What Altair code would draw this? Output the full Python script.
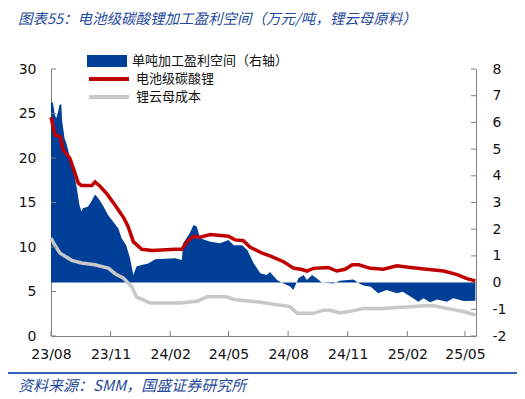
import altair as alt
import pandas as pd

START = "2023-08-01"

# ---- data (day offset from 2023-08-01, value) ----
red_day = [0, 6, 14, 19, 29, 37, 42, 47, 63, 68, 76, 86, 99, 112, 119, 127, 140, 156, 192, 202,
           210, 220, 230, 246, 274, 284, 297, 307, 326, 338, 359, 375, 386, 395, 405, 428, 441,
           454, 465, 475, 493, 513, 534, 555, 580, 606, 627, 642, 655]
red_val = [24.6, 22.6, 22.4, 20.9, 20.0, 18.3, 17.2, 16.9, 16.9, 17.3, 16.8, 16.0, 14.7, 13.3,
           12.3, 10.6, 9.74, 9.6, 9.74, 9.74, 10.6, 11.2, 11.1, 11.4, 11.2, 10.8, 10.7, 10.0, 9.3,
           9.0, 8.35, 7.6, 7.5, 7.3, 7.6, 7.7, 7.3, 7.5, 8.0, 8.0, 7.6, 7.5, 7.9, 7.7, 7.5, 7.3,
           6.9, 6.45, 6.2]

gray_day = [0, 6, 14, 32, 47, 68, 89, 99, 112, 125, 132, 153, 199, 225, 241, 271, 282, 318, 349,
            369, 380, 405, 421, 431, 446, 467, 483, 513, 534, 555, 575, 591, 611, 637, 655]
gray_val = [11.0, 10.2, 9.3, 8.5, 8.2, 8.0, 7.6, 7.0, 6.5, 5.5, 4.4, 3.7, 3.7, 3.9, 4.4, 4.4, 4.1,
            3.85, 3.5, 3.3, 2.55, 2.55, 2.9, 2.9, 2.6, 2.85, 3.1, 3.1, 3.2, 3.3, 3.4, 3.4, 3.1,
            2.75, 2.36]

blue_day = [0, 3, 6, 8, 11, 13, 16, 17, 21, 24, 29, 34, 39, 44, 47, 49, 57, 62, 68, 73, 80, 88,
            96, 104, 109, 116, 122, 127, 132, 140, 150, 161, 192, 202, 204, 214, 220, 225, 230,
            246, 261, 274, 282, 295, 303, 313, 323, 333, 338, 349, 359, 369, 374, 382, 390, 395,
            403, 410, 418, 436, 446, 467, 477, 485, 493, 505, 518, 534, 543, 559, 567, 575, 585,
            596, 611, 621, 637, 655]
blue_val = [6.78, 6.73, 6.28, 6.16, 6.4, 6.65, 6.68, 6.09, 5.4, 5.2, 4.7, 4.28, 3.66, 2.9, 2.66,
            2.78, 2.84, 3.03, 3.3, 3.16, 2.9, 2.53, 2.28, 2.03, 1.66, 1.4, 0.91, 0.28, 0.6, 0.66,
            0.72, 0.87, 0.91, 0.85, 1.47, 1.85, 2.16, 2.1, 1.66, 1.53, 1.47, 1.6, 1.4, 1.4, 1.22,
            0.72, 0.35, 0.28, 0.4, 0.1, -0.03, -0.15, -0.28, 0.16, 0.28, 0.1, 0.28, 0.16, 0.0,
            -0.03, 0.07, 0.12, -0.05, -0.13, -0.15, -0.4, -0.28, -0.4, -0.34, -0.59, -0.72,
            -0.59, -0.74, -0.63, -0.72, -0.59, -0.69, -0.68]

x_tick_dates = ["2023-08-01", "2023-11-01", "2024-02-01", "2024-05-01",
                "2024-08-01", "2024-11-01", "2025-02-01", "2025-05-01"]
left_ticks = [0, 5, 10, 15, 20, 25, 30]
right_ticks = [-2, -1, 0, 1, 2, 3, 4, 5, 6, 7, 8]

NAME_BLUE = "单吨加工盈利空间（右轴）"
NAME_RED = "电池级碳酸锂"
NAME_GRAY = "锂云母成本"
TITLE = "图表55：电池级碳酸锂加工盈利空间（万元/吨，锂云母原料）"
SOURCE = "资料来源：SMM，国盛证券研究所"

BLUE = "#003f98"
RED = "#c00000"
GRAY = "#c8c8c8"
AX = "#808080"
HEAD = "#1f4a9c"
CJK = "Noto Sans CJK SC"
NUM = "DejaVu Sans"

W, H = 425, 267


def to_dates(days):
    return (pd.Timestamp(START) + pd.to_timedelta(days, unit="D")).strftime("%Y-%m-%d").tolist()


blue_df = pd.DataFrame({"date": to_dates(blue_day), "v": blue_val, "s": NAME_BLUE})
lines_df = pd.concat([
    pd.DataFrame({"date": to_dates(red_day), "v": red_val, "s": NAME_RED}),
    pd.DataFrame({"date": to_dates(gray_day), "v": gray_val, "s": NAME_GRAY}),
])
xt_df = pd.DataFrame({"date": x_tick_dates})
lt_df = pd.DataFrame({"t": left_ticks})
rt_df = pd.DataFrame({"t": right_ticks})


def dt(s):
    y, m, d = map(int, s.split("-"))
    return alt.DateTime(year=y, month=m, date=d, utc=True)


x_scale = alt.Scale(type="utc", domain=[dt("2023-08-01"), dt("2025-05-18")])
x_axis = alt.Axis(values=[dt(s) for s in x_tick_dates],
                  labelExpr="utcFormat(datum.value, '%y/%m')",
                  tickSize=0, grid=False, domainColor=AX, domainWidth=1,
                  labelFont=NUM, labelFontSize=14, labelColor="#111111",
                  labelPadding=11, labelFlush=False, labelOverlap=False, title=None)
X = alt.X("date:T", scale=x_scale, axis=x_axis)

left_scale = alt.Scale(domain=[0, 30], nice=False, zero=False)
left_axis = alt.Axis(orient="left", values=left_ticks, tickSize=0, grid=False,
                     domainColor=AX, labelFont=NUM, labelFontSize=14, labelColor="#111111",
                     labelPadding=15, labelFlush=False, title=None)
right_scale = alt.Scale(domain=[-2, 8], nice=False, zero=False)
right_axis = alt.Axis(orient="right", values=right_ticks, tickSize=0, grid=False,
                      domainColor=AX, labelFont=NUM, labelFontSize=14, labelColor="#111111",
                      labelPadding=16, labelFlush=False, title=None,
                      labelExpr="datum.value + ''")

legend_common = dict(title=None, orient="none", labelFont=CJK, labelFontSize=13,
                     labelColor="#111111", symbolSize=1600, clipHeight=12, rowPadding=5,
                     labelOffset=5, padding=0, offset=0, legendX=36)

area = alt.Chart(blue_df).mark_area(interpolate="linear").encode(
    x=X,
    y=alt.Y("v:Q", scale=right_scale, axis=right_axis),
    y2=alt.datum(0),
    fill=alt.Fill("s:N", scale=alt.Scale(domain=[NAME_BLUE], range=[BLUE]),
                  legend=alt.Legend(symbolType="M-1,-0.3L1,-0.3L1,0.3L-1,0.3Z",
                                    symbolStrokeWidth=0, legendY=-14, **legend_common)),
)
right_ticks_layer = alt.Chart(rt_df).mark_rule(color=AX, strokeWidth=1).encode(
    y=alt.Y("t:Q", scale=right_scale, axis=right_axis),
    x=alt.value(W - 5), x2=alt.value(W),
)
right_group = alt.layer(area, right_ticks_layer)

lines = alt.Chart(lines_df).mark_line(strokeWidth=3.5, interpolate="linear").encode(
    x=X,
    y=alt.Y("v:Q", scale=left_scale, axis=left_axis),
    stroke=alt.Stroke("s:N", scale=alt.Scale(domain=[NAME_RED, NAME_GRAY], range=[RED, GRAY]),
                      legend=alt.Legend(symbolType="stroke", symbolStrokeWidth=4,
                                        legendY=4, **legend_common)),
    detail="s:N",
)
left_ticks_layer = alt.Chart(lt_df).mark_rule(color=AX, strokeWidth=1).encode(
    y=alt.Y("t:Q", scale=left_scale, axis=left_axis),
    x=alt.value(0), x2=alt.value(5),
)
x_ticks_layer = alt.Chart(xt_df).mark_rule(color=AX, strokeWidth=1).encode(
    x=X, y=alt.value(H - 5), y2=alt.value(H),
)

one = alt.Data(values=[{}])
title_t = alt.Chart(one).mark_text(align="left", baseline="middle", font=CJK, fontSize=14.5,
                                   fontStyle="italic", color=HEAD).encode(
    x=alt.value(-33), y=alt.value(-49), text=alt.value(TITLE))
source_t = alt.Chart(one).mark_text(align="left", baseline="middle", font=CJK, fontSize=15,
                                    fontStyle="italic", color=HEAD).encode(
    x=alt.value(-33), y=alt.value(317), text=alt.value(SOURCE))
sep = alt.Chart(one).mark_rule(color="#2a63b8", strokeWidth=2).encode(
    x=alt.value(-46), x2=alt.value(466), y=alt.value(304))

left_group = alt.layer(lines, left_ticks_layer, x_ticks_layer, title_t, source_t, sep)

chart = alt.layer(right_group, left_group).resolve_scale(y="independent").properties(
    width=W, height=H, autosize="none",
    padding={"left": 43, "top": 61, "right": 41, "bottom": 63},
).configure_view(stroke=None)

chart.save("out.html", embed_options={"renderer": "svg", "actions": False})
